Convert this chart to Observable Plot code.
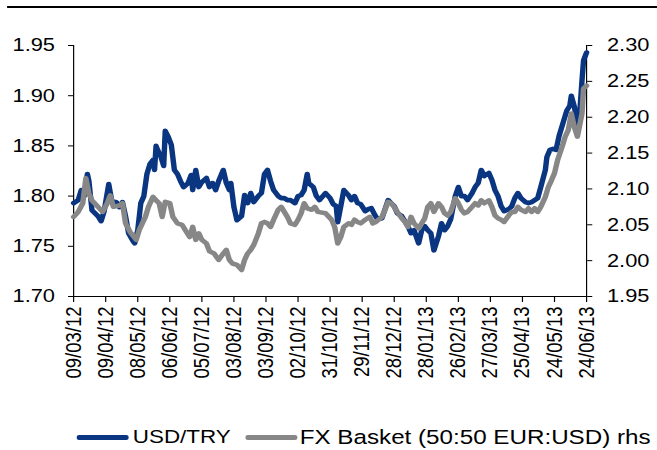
<!DOCTYPE html>
<html><head><meta charset="utf-8">
<script src="https://cdn.jsdelivr.net/npm/d3@7"></script>
<script src="https://cdn.jsdelivr.net/npm/@observablehq/plot@0.6"></script>
<style>
body{margin:0;background:#fff;overflow:hidden;}
#wrap{position:relative;width:557px;height:450px;transform:scaleX(1.18);transform-origin:0 0;font-family:"Liberation Sans",Arial,sans-serif;}
#topline{position:absolute;left:6px;right:0;top:6px;height:2px;background:#000;}
#chart svg{position:absolute;left:0;top:0;}
.leg{position:absolute;top:426px;font-size:19px;line-height:22px;color:#000;white-space:nowrap;}
.sw{position:absolute;height:5px;top:435px;border-radius:2px;}
</style></head><body>
<div id="wrap"><div id="topline"></div><div id="chart"></div><div id="legend"></div></div>
<script>
// Category (business-day) axis: one tick every 21 trading days
const dateLabels = ["09/03/12","09/04/12","08/05/12","06/06/12","05/07/12","03/08/12","03/09/12","02/10/12","31/10/12","29/11/12","28/12/12","28/01/13","26/02/13","27/03/13","25/04/13","24/05/13","24/06/13"];
const xTickDays = [0,21,42,63,84,105,126,147,168,189,210,231,252,273,294,315,336];
const leftTicks = [1.70,1.75,1.80,1.85,1.90,1.95];
const rightTicks = [1.95,2.00,2.05,2.10,2.15,2.20,2.25,2.30];
const seriesNames = ["USD/TRY","FX Basket (50:50 EUR:USD) rhs"];
const seriesColors = ["#0a3580","#878787"];

// USD/TRY (left axis)
const usdDays = [0,3,5,7,9,10,12,16,18,20,
23,25,28,30,32,34,36,39,40,42,
44,46,48,50,52,53,54,55,57,59,
60,62,64,66,68,70,72,75,77,78,
80,82,84,87,89,91,93,95,98,100,
102,103,105,107,110,112,114,116,118,121,
123,125,127,129,131,134,136,138,140,142,
145,147,149,151,153,154,157,159,161,165,
168,170,172,173,175,177,180,182,184,186,
188,191,193,195,197,199,202,204,206,208,
210,212,215,217,219,221,223,226,228,230,
232,234,236,239,241,243,245,247,250,252,
254,256,258,261,263,265,267,269,272,274,
276,278,280,282,285,287,289,291,293,296,
298,300,302,304,306,309,310,312,314,316,
318,321,323,325,326,328,330,331,333,334,
336];
const usdVals = [1.793,1.796,1.806,1.800,1.822,1.815,1.786,1.780,1.775,1.785,
1.812,1.795,1.794,1.789,1.794,1.780,1.763,1.755,1.753,1.766,
1.793,1.800,1.822,1.832,1.836,1.826,1.850,1.846,1.840,1.830,
1.865,1.859,1.851,1.826,1.822,1.815,1.809,1.813,1.821,1.806,
1.826,1.809,1.814,1.818,1.809,1.813,1.806,1.815,1.826,1.813,
1.806,1.813,1.789,1.776,1.780,1.801,1.793,1.803,1.794,1.800,
1.803,1.822,1.826,1.815,1.806,1.800,1.798,1.798,1.796,1.796,
1.793,1.800,1.801,1.806,1.822,1.813,1.809,1.800,1.796,1.803,
1.798,1.792,1.790,1.774,1.790,1.806,1.801,1.796,1.800,1.793,
1.792,1.785,1.787,1.788,1.782,1.777,1.778,1.787,1.796,1.793,
1.790,1.783,1.780,1.775,1.770,1.763,1.766,1.753,1.766,1.770,
1.766,1.763,1.746,1.760,1.773,1.766,1.770,1.777,1.800,1.809,
1.800,1.800,1.796,1.803,1.809,1.813,1.826,1.820,1.823,1.816,
1.806,1.800,1.790,1.785,1.787,1.790,1.798,1.803,1.798,1.794,
1.793,1.794,1.796,1.798,1.809,1.826,1.839,1.846,1.847,1.846,
1.860,1.875,1.885,1.890,1.900,1.889,1.872,1.872,1.915,1.935,
1.943];

// FX Basket (right axis)
const fxDays = [0,3,6,8,10,12,16,19,22,24,
26,30,32,34,37,41,43,45,47,49,
52,54,56,58,60,63,65,68,71,73,
76,78,80,82,84,87,89,92,95,98,
100,102,104,107,110,112,114,116,118,121,
123,125,127,129,131,134,136,138,140,142,
145,147,149,151,153,156,158,160,
165,169,171,173,175,177,180,182,184,186,
188,191,194,196,198,202,204,206,208,210,
212,215,217,219,221,223,226,228,230,232,
234,236,239,241,243,245,247,250,252,254,
256,258,261,263,265,267,269,272,274,276,
278,280,282,285,287,289,291,293,296,298,
300,302,304,306,309,311,313,315,317,320,
322,324,326,328,330,333,334,336];
const fxVals = [2.061,2.068,2.080,2.115,2.094,2.084,2.075,2.068,2.080,2.091,
2.075,2.077,2.080,2.052,2.040,2.029,2.043,2.052,2.061,2.075,
2.089,2.084,2.080,2.061,2.082,2.080,2.061,2.052,2.050,2.043,
2.033,2.047,2.029,2.038,2.029,2.024,2.013,2.010,2.001,2.010,
2.015,2.001,1.996,1.994,1.987,2.001,2.010,2.015,2.022,2.038,
2.052,2.054,2.052,2.047,2.057,2.071,2.075,2.068,2.061,2.052,
2.050,2.057,2.066,2.080,2.073,2.071,2.075,2.068,
2.066,2.057,2.047,2.024,2.033,2.047,2.052,2.050,2.057,2.054,
2.052,2.057,2.061,2.052,2.054,2.061,2.071,2.082,2.080,2.075,
2.068,2.059,2.054,2.047,2.061,2.052,2.045,2.052,2.059,2.075,
2.080,2.068,2.080,2.075,2.066,2.063,2.068,2.087,2.080,2.071,
2.066,2.068,2.075,2.080,2.077,2.084,2.080,2.084,2.075,2.063,
2.059,2.057,2.054,2.063,2.068,2.068,2.075,2.071,2.068,2.073,
2.068,2.073,2.068,2.075,2.089,2.103,2.112,2.122,2.140,2.159,
2.173,2.182,2.205,2.186,2.173,2.205,2.240,2.244];

// map right-axis values onto the left-axis scale (1.95..2.30 -> 1.70..1.95)
const toLeft = v => 1.70 + (v - 1.95) / 1.4;
const toRight = v => 1.95 + (v - 1.70) * 1.4;

const usd = usdDays.map((d, i) => ({day: d, v: usdVals[i]}));
const fx = fxDays.map((d, i) => ({day: d, v: toLeft(fxVals[i])}));

const W = 557, H = 400;
const font = '"Liberation Sans", Arial, sans-serif';
const chart = Plot.plot({
  width: W, height: H,
  marginLeft: 61.9, marginRight: 60.4, marginTop: 45, marginBottom: H - 296,
  style: {fontFamily: font, fontSize: "18.5px", color: "#000", background: "transparent", overflow: "visible"},
  x: {domain: [0, 336]},
  y: {domain: [1.70, 1.95]},
  marks: [
    Plot.axisY(leftTicks, {anchor: "left", tickSize: 4.3, tickPadding: 11.5, tickFormat: d3.format(".2f"), label: null}),
    Plot.axisY(rightTicks.map(toLeft), {anchor: "right", tickSize: 4.3, tickPadding: 13, tickFormat: d => toRight(d).toFixed(2), label: null}),
    Plot.axisX(xTickDays, {anchor: "bottom", tickSize: 6, tickPadding: 4, tickRotate: -90, tickFormat: d => dateLabels[Math.round(d / 21)], label: null}),
    Plot.ruleX([0, 336], {y1: 1.70, y2: 1.95, stroke: "#000"}),
    Plot.ruleY([1.70], {stroke: "#000"}),
    Plot.line(usd, {x: "day", y: "v", stroke: seriesColors[0], strokeWidth: 4.6}),
    Plot.line(fx, {x: "day", y: "v", stroke: seriesColors[1], strokeWidth: 4.6})
  ]
});
document.getElementById("chart").appendChild(chart);

// legend
const leg = document.getElementById("legend");
const swX = [64.5, 207.5], txtX = [112.5, 254], txtSize = [19, 20.5];
seriesNames.forEach((name, i) => {
  const s = document.createElement("div");
  s.className = "sw"; s.style.left = swX[i] + "px"; s.style.width = "44.5px"; s.style.background = seriesColors[i];
  leg.appendChild(s);
  const t = document.createElement("div");
  t.className = "leg"; t.style.left = txtX[i] + "px"; t.style.fontSize = txtSize[i] + "px"; t.textContent = name;
  leg.appendChild(t);
});
</script>
</body></html>
